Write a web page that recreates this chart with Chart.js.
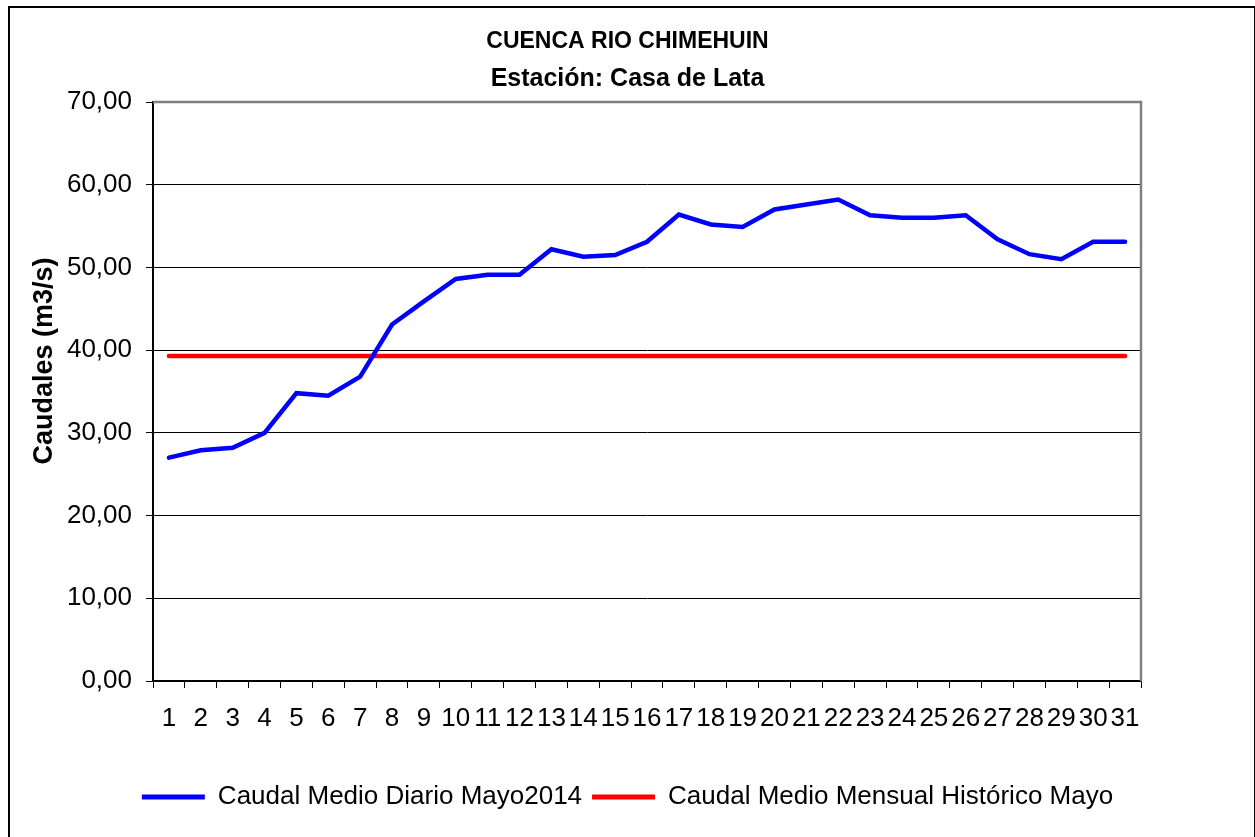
<!DOCTYPE html>
<html>
<head>
<meta charset="utf-8">
<title>Cuenca Rio Chimehuin</title>
<script src="https://cdn.jsdelivr.net/npm/chart.js@4.4.0/dist/chart.umd.min.js"></script>
<style>
    body { margin: 0; background: #fff; }
    #frame { position: absolute; left: 8px; top: 6px; width: 1244px; height: 840px; border: 2px solid #000; }
    #chart { position: absolute; left: 0; top: 0; }
</style>
</head>
<body>
<div id="frame"></div>
<canvas id="chart" width="1255" height="837"></canvas>
<script>
// Chart data
const dias = ['1', '2', '3', '4', '5', '6', '7', '8', '9', '10', '11', '12', '13', '14', '15', '16',
    '17', '18', '19', '20', '21', '22', '23', '24', '25', '26', '27', '28', '29', '30', '31'];
const caudalDiario = [27.0, 27.9, 28.2, 30.0, 34.8, 34.5, 36.8, 43.1, 45.9, 48.6, 49.1, 49.1, 52.2, 51.3, 51.5, 53.1,
    56.4, 55.2, 54.9, 57.0, 57.6, 58.2, 56.3, 56.0, 56.0, 56.3, 53.4, 51.6, 51.0, 53.1, 53.1];
const caudalHistorico = [39.3, 39.3, 39.3, 39.3, 39.3, 39.3, 39.3, 39.3, 39.3, 39.3, 39.3, 39.3, 39.3, 39.3, 39.3, 39.3,
    39.3, 39.3, 39.3, 39.3, 39.3, 39.3, 39.3, 39.3, 39.3, 39.3, 39.3, 39.3, 39.3, 39.3, 39.3];
const yTicks = [0, 10, 20, 30, 40, 50, 60, 70];

const FONT = '"Liberation Sans", Arial, sans-serif';

// Gray plot frame (top/right) and rotated y title
const plotFrame = {
    id: 'plotFrame',
    beforeDatasetsDraw(chart) {
        const { ctx, chartArea: a } = chart;
        ctx.save();
        ctx.strokeStyle = '#808080';
        ctx.lineWidth = 2.5;
        ctx.beginPath();
        ctx.moveTo(a.left, a.top);
        ctx.lineTo(a.right, a.top);
        ctx.lineTo(a.right, a.bottom);
        ctx.stroke();
        ctx.restore();
    },
    afterDraw(chart) {
        const ctx = chart.ctx;
        ctx.save();
        ctx.translate(45, 361);
        ctx.rotate(-Math.PI / 2);
        ctx.font = 'bold 27px ' + FONT;
        ctx.fillStyle = '#000';
        ctx.textAlign = 'center';
        ctx.textBaseline = 'middle';
        ctx.fillText('Caudales (m3/s)', 0, 0);
        ctx.restore();
    }
};

new Chart(document.getElementById('chart'), {
    type: 'line',
    data: {
        labels: dias,
        datasets: [{
            label: 'Caudal Medio Diario Mayo2014',
            data: caudalDiario,
            borderColor: '#0000FF',
            backgroundColor: '#0000FF',
            borderWidth: 4.5,
            borderCapStyle: 'round',
            pointRadius: 0,
            tension: 0
        }, {
            label: 'Caudal Medio Mensual Histórico Mayo',
            data: caudalHistorico,
            borderColor: '#FF0000',
            backgroundColor: '#FF0000',
            borderWidth: 4.5,
            borderCapStyle: 'round',
            pointRadius: 0,
            tension: 0
        }]
    },
    options: {
        responsive: false,
        animation: false,
        devicePixelRatio: 1,
        layout: { padding: { left: 0, right: 0, top: 0, bottom: 17 } },
        scales: {
            x: {
                offset: true,
                grid: { display: true, drawOnChartArea: false, offset: true, tickLength: 7, color: '#000' },
                border: { color: '#000', width: 1.5 },
                ticks: {
                    color: '#000', font: { family: FONT, size: 26 }, padding: 15,
                    maxRotation: 0, autoSkip: false
                },
                afterFit(scale) { scale.height = 93; }
            },
            y: {
                min: 0,
                max: 70,
                afterBuildTicks(scale) { scale.ticks = yTicks.map(v => ({ value: v })); },
                grid: {
                    color: c => (c.tick && c.tick.value === 70) ? 'rgba(0,0,0,0)' : '#000',
                    tickColor: '#000',
                    tickLength: 7,
                    lineWidth: 1
                },
                border: { color: '#000', width: 2 },
                ticks: {
                    color: '#000', font: { family: FONT, size: 26 }, padding: 14,
                    callback: v => v.toFixed(2).replace('.', ',')
                },
                afterFit(scale) { scale.width = 153; }
            },
            y2: {
                position: 'right',
                display: true,
                grid: { display: false },
                border: { display: false },
                ticks: { display: false },
                afterFit(scale) { scale.width = 114; }
            }
        },
        plugins: {
            title: {
                display: true,
                text: 'CUENCA RIO CHIMEHUIN',
                color: '#000',
                font: { family: FONT, size: 23, weight: 'bold', lineHeight: 37 / 23 },
                padding: { top: 23.5, bottom: 0 }
            },
            subtitle: {
                display: true,
                text: 'Estación: Casa de Lata',
                color: '#000',
                font: { family: FONT, size: 25, weight: 'bold', lineHeight: 37 / 25 },
                padding: { top: 0, bottom: 4.5 }
            },
            legend: {
                position: 'bottom',
                labels: {
                    color: '#000',
                    font: { family: FONT, size: 26 },
                    boxWidth: 63,
                    boxHeight: 5,
                    padding: 10,
                    generateLabels: chart => Chart.defaults.plugins.legend.labels.generateLabels(chart)
                        .map(l => ({ ...l, lineWidth: 0 }))
                }
            },
            tooltip: { enabled: false }
        }
    },
    plugins: [plotFrame]
});
</script>
</body>
</html>
